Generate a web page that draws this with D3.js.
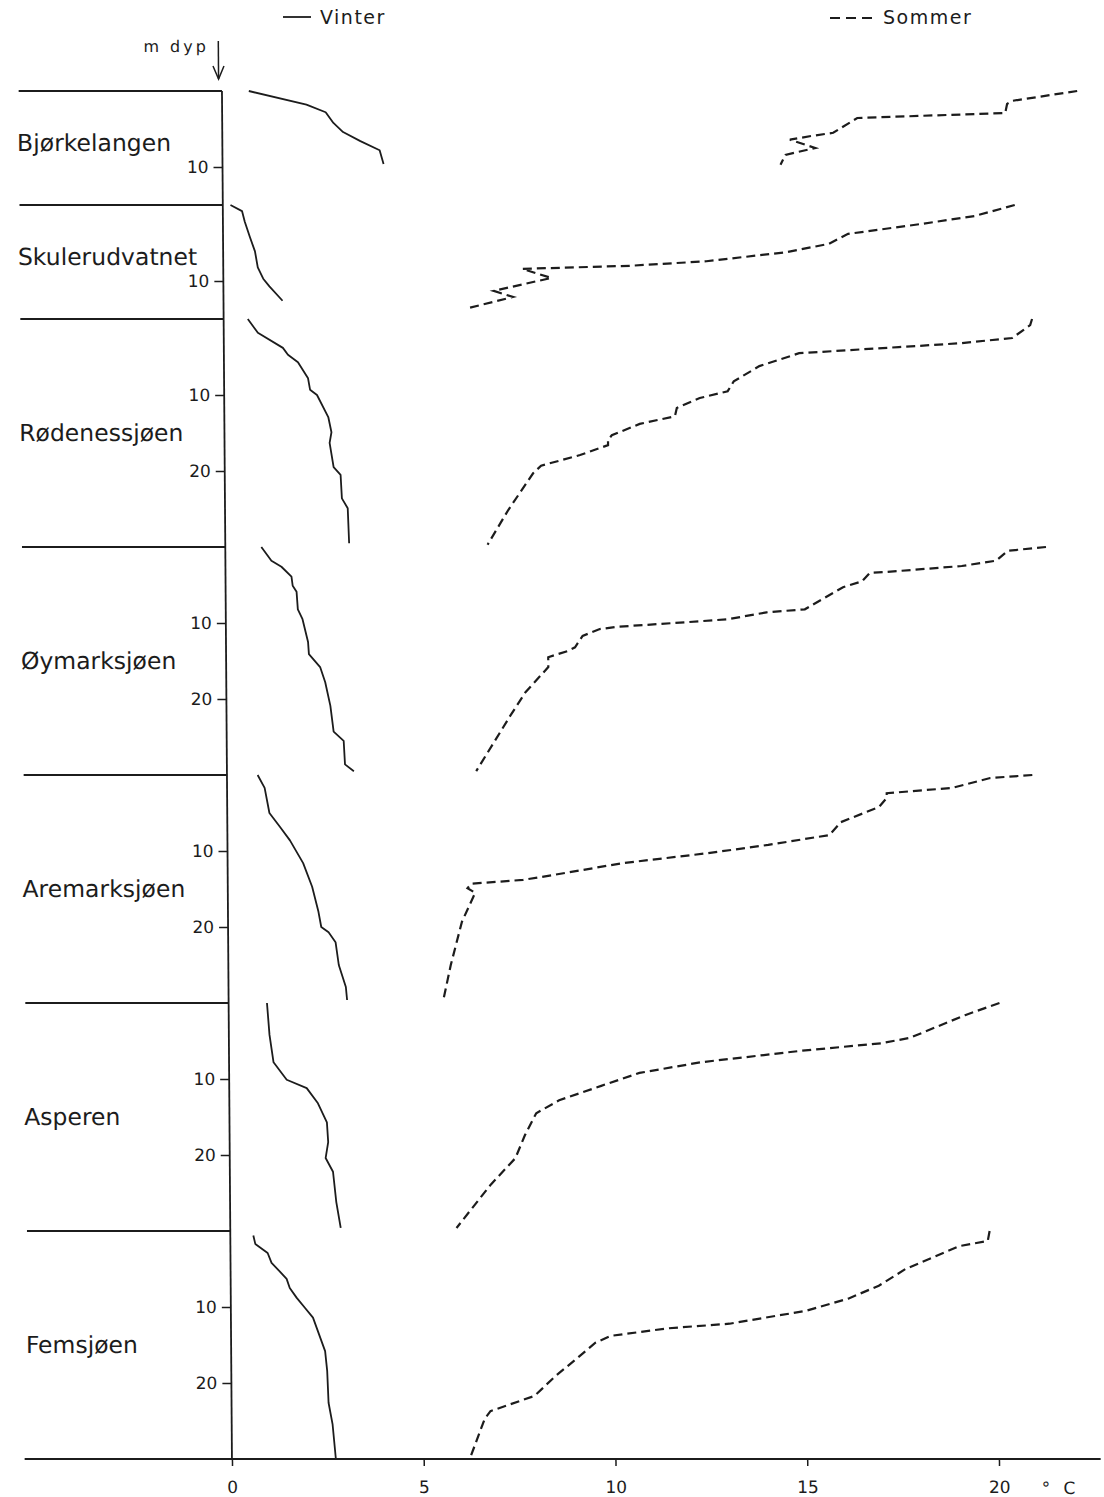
<!DOCTYPE html>
<html><head><meta charset="utf-8">
<script src="https://cdn.jsdelivr.net/npm/d3@7"></script>
<style>body{margin:0;background:#fff}svg{display:block}</style>
</head><body><svg id="c" width="1104" height="1497"></svg>
<script>
// ---------- DATA ----------
const lakes = ["Bjørkelangen","Skulerudvatnet","Rødenessjøen","Øymarksjøen","Aremarksjøen","Asperen","Femsjøen"];
const maxDepth = [15,15,30,30,30,30,30];
const depthTicks = [10,20];
const tempTicks = [0,5,10,15,20];
const legendLabels = ["Vinter","Sommer"];
const depthLabel = "m dyp";
const unitLabel = "° C";

// [temperature °C, depth m]
const winterBjorkelangen = [[0.7,0],[2.2,1.8],[2.7,2.8],[2.9,4.2],[3.15,5.4],[3.6,6.6],[4.1,7.8],[4.2,9.6]];
const summerBjorkelangen = [[22.3,0],[20.6,1.3],[20.47,1.7],[20.42,2.9],[16.56,3.55],[15.93,5.5],[15.38,5.9],[14.8,6.4],[15.46,7.5],[14.68,8.4],[14.55,9.7]];
const winterSkulerud = [[0.2,0],[0.5,0.8],[0.57,2.2],[0.7,4.2],[0.83,6.1],[0.9,8.2],[1.04,9.7],[1.2,10.7],[1.54,12.6]];
const summerSkulerud = [[20.65,0],[19.6,1.45],[18.2,2.5],[16.3,3.8],[15.8,5.1],[14.7,6.2],[12.6,7.4],[10.6,8.0],[7.8,8.4],[8.55,9.6],[7.05,11.3],[7.55,12.1],[6.35,13.6]];
const winterRodenes = [[0.63,0],[0.89,1.8],[1.54,3.8],[1.67,4.7],[1.93,5.7],[2.19,7.8],[2.24,9.3],[2.42,10.0],[2.71,12.9],[2.79,14.9],[2.74,16.3],[2.84,19.5],[3.02,20.5],[3.05,23.6],[3.2,24.9],[3.23,29.5]];
const summerRodenes = [[21.08,0],[21.03,0.8],[20.56,2.5],[19.18,3.2],[17.6,3.7],[15.0,4.5],[13.96,6.2],[13.29,8.2],[13.13,9.5],[12.4,10.4],[11.8,11.7],[11.75,12.8],[10.83,13.8],[10.1,15.3],[10.0,15.9],[10.0,16.6],[9.27,17.9],[8.25,19.3],[8.04,20.3],[7.39,25.1],[6.84,29.7]];
const winterOymark = [[0.94,0],[1.2,1.8],[1.46,2.6],[1.72,3.9],[1.75,5.1],[1.85,5.9],[1.88,8.2],[2.0,9.5],[2.14,12.5],[2.16,14.1],[2.45,15.8],[2.58,17.8],[2.71,20.9],[2.79,24.3],[3.05,25.5],[3.08,28.6],[3.31,29.5]];
const summerOymark = [[21.4,0],[20.4,0.5],[20.1,1.8],[19.2,2.5],[17.2,3.3],[16.8,3.4],[16.6,4.5],[16.1,5.3],[15.1,8.2],[14.1,8.6],[13.1,9.5],[12.0,9.9],[10.2,10.5],[9.75,10.8],[9.3,11.7],[9.1,13.2],[8.9,13.7],[8.4,14.5],[8.4,15.8],[7.8,19.1],[7.4,22.2],[6.5,29.5]];
const winterAremark = [[0.8,0],[0.98,1.7],[1.1,5.0],[1.37,6.8],[1.63,8.6],[1.97,11.6],[2.2,14.7],[2.36,18.0],[2.43,20.0],[2.62,20.7],[2.8,22.0],[2.88,25.0],[3.06,27.9],[3.09,29.6]];
const summerAremark = [[21.0,0],[19.9,0.4],[18.9,1.7],[17.2,2.4],[17.2,3.0],[17.0,4.2],[16.0,6.2],[15.7,7.9],[14.1,9.2],[12.5,10.3],[10.3,11.6],[8.2,13.4],[7.7,13.8],[6.35,14.3],[6.25,14.9],[6.45,15.5],[6.1,19.3],[5.8,25.0],[5.6,29.6]];
const winterAsperen = [[1.0,0],[1.06,4.2],[1.16,7.8],[1.5,10.1],[2.02,11.2],[2.31,13.2],[2.54,15.7],[2.57,18.3],[2.5,20.4],[2.69,22.2],[2.77,26.2],[2.88,29.6]];
const summerAsperen = [[20.1,0],[19.2,1.6],[17.75,4.6],[17.0,5.3],[14.9,6.3],[12.3,7.8],[10.7,9.2],[9.7,10.9],[8.6,12.8],[8.0,14.5],[7.7,17.4],[7.45,20.4],[6.8,23.9],[5.9,29.6]];
const winterFems = [[0.6,0.6],[0.65,1.7],[0.97,2.9],[1.07,4.2],[1.28,5.3],[1.46,6.3],[1.54,7.5],[1.72,8.8],[1.93,10.1],[2.14,11.4],[2.45,15.8],[2.5,18.4],[2.53,22.6],[2.63,25.4],[2.71,30.0]];
const summerFems = [[19.8,0],[19.75,1.3],[19.0,2.0],[18.4,3.3],[17.6,5.0],[16.9,7.2],[16.1,8.9],[15.0,10.5],[13.0,12.2],[11.4,12.8],[9.9,13.8],[9.5,14.7],[9.1,16.4],[8.45,19.1],[7.9,21.7],[6.75,23.7],[6.6,24.7],[6.2,30.0]];

const winterSeries = [winterBjorkelangen, winterSkulerud, winterRodenes, winterOymark, winterAremark, winterAsperen, winterFems];
const summerSeries = [summerBjorkelangen, summerSkulerud, summerRodenes, summerOymark, summerAremark, summerAsperen, summerFems];

// ---------- LAYOUT ----------
const ink = "#1c1c1c";
const pxPerM = 7.6, top0 = 91;
const x0px = 221.3, pxPerDeg = 38.35;
const x = d3.scaleLinear().domain([0, 22.5]).range([x0px, x0px + 22.5 * pxPerDeg]);
const tops = []; let acc = top0;
maxDepth.forEach(m => { tops.push(acc); acc += m * pxPerM; });
const bottom = acc;

const svg = d3.select("#c");
svg.append("rect").attr("width",1104).attr("height",1497).attr("fill","#fff");
const skew = Math.atan(10/1370) * 180 / Math.PI;
const g = svg.append("g").attr("transform", `skewX(${skew})`);

g.append("line").attr("x1", x(0)).attr("x2", x(0)).attr("y1", tops[0]).attr("y2", bottom)
  .attr("stroke", ink).attr("stroke-width", 1.8);
g.append("line").attr("x1", 14).attr("x2", 1090).attr("y1", bottom).attr("y2", bottom)
  .attr("stroke", ink).attr("stroke-width", 1.8);

const lineGen = y => d3.line().x(d => x(d[0])).y(d => y(d[1]));

lakes.forEach((name, i) => {
  const y = d3.scaleLinear().domain([0, maxDepth[i]]).range([tops[i], tops[i] + maxDepth[i] * pxPerM]);
  g.append("line").attr("x1", 18).attr("x2", x(0)).attr("y1", y(0)).attr("y2", y(0))
    .attr("stroke", ink).attr("stroke-width", 1.8);
  const ax = d3.axisLeft(y).tickValues(depthTicks.filter(t => t < maxDepth[i])).tickSize(9).tickPadding(5);
  const axg = g.append("g").attr("transform", `translate(${x(0)},0)`).call(ax);
  axg.select(".domain").remove();
  axg.selectAll("line").attr("stroke", ink).attr("stroke-width", 1.5);
  axg.selectAll("text").attr("font-family", "DejaVu Sans").attr("font-size", 17).attr("fill", ink);
  const mid = (y(0) + y(maxDepth[i])) / 2;
  g.append("text").attr("x", 16).attr("y", mid + (maxDepth[i] < 20 ? 3 : 8))
    .attr("font-family", "DejaVu Sans").attr("font-size", 23.5).attr("fill", ink).text(name);
  g.append("path").attr("d", lineGen(y)(winterSeries[i])).attr("fill", "none")
    .attr("stroke", ink).attr("stroke-width", 1.8).attr("stroke-linejoin", "round");
  g.append("path").attr("d", lineGen(y)(summerSeries[i])).attr("fill", "none")
    .attr("stroke", ink).attr("stroke-width", 2.2).attr("stroke-dasharray", "9,5");
});

const bx = d3.axisBottom(x).tickValues(tempTicks).tickSize(7).tickPadding(15).tickFormat(d3.format("d"));
const bxg = g.append("g").attr("transform", `translate(0,${bottom})`).call(bx);
bxg.select(".domain").remove();
bxg.selectAll("line").attr("stroke", ink).attr("stroke-width", 1.5);
bxg.selectAll("text").attr("font-family", "DejaVu Sans").attr("font-size", 17).attr("fill", ink);
g.append("text").attr("x", x(21.6)).attr("y", bottom + 35).attr("text-anchor", "middle")
  .attr("font-family", "DejaVu Sans").attr("font-size", 17).attr("letter-spacing", 4).attr("fill", ink).text(unitLabel);

g.append("text").attr("x", 143).attr("y", 52).attr("font-family", "DejaVu Sans").attr("font-size", 16)
  .attr("letter-spacing", 3).attr("fill", ink).text(depthLabel);
g.append("line").attr("x1", 218).attr("x2", 218).attr("y1", 41).attr("y2", 79).attr("stroke", ink).attr("stroke-width", 1.5);
g.append("path").attr("d", "M212.5,66 L218,79 L223.5,66").attr("fill", "none").attr("stroke", ink).attr("stroke-width", 1.5);

svg.append("line").attr("x1", 283).attr("x2", 311).attr("y1", 17).attr("y2", 17).attr("stroke", ink).attr("stroke-width", 1.8);
svg.append("text").attr("x", 320).attr("y", 24).attr("font-family", "DejaVu Sans").attr("font-size", 19)
  .attr("letter-spacing", 1.5).attr("fill", ink).text(legendLabels[0]);
svg.append("line").attr("x1", 830).attr("x2", 873).attr("y1", 18).attr("y2", 18).attr("stroke", ink)
  .attr("stroke-width", 2).attr("stroke-dasharray", "10,6");
svg.append("text").attr("x", 883).attr("y", 24).attr("font-family", "DejaVu Sans").attr("font-size", 19)
  .attr("letter-spacing", 1.5).attr("fill", ink).text(legendLabels[1]);
</script></body></html>
